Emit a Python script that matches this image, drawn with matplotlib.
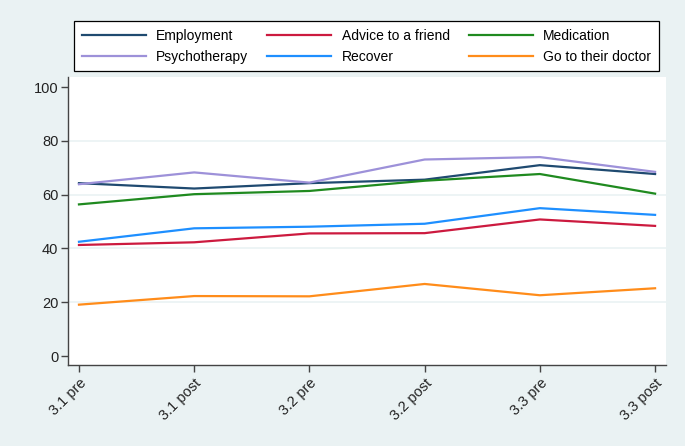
import matplotlib.pyplot as plt

plt.rcParams['font.family'] = ['Liberation Sans', 'DejaVu Sans']

waves = ['3.1 pre', '3.1 post', '3.2 pre', '3.2 post', '3.3 pre', '3.3 post']

employment = [64.3, 62.3, 64.3, 65.6, 71.0, 67.7]
advice = [41.3, 42.3, 45.6, 45.7, 50.8, 48.4]
medication = [56.4, 60.2, 61.4, 65.2, 67.7, 60.4]
psychotherapy = [63.9, 68.3, 64.5, 73.1, 74.0, 68.5]
recover = [42.5, 47.5, 48.1, 49.2, 55.0, 52.5]
doctor = [19.1, 22.3, 22.2, 26.8, 22.6, 25.2]

bg = '#eaf2f3'
fig = plt.figure(figsize=(6.85, 4.46), dpi=100, facecolor=bg)
ax = fig.add_axes([0.0993, 0.1816, 0.873, 0.6458])
ax.set_facecolor('white')

x = list(range(len(waves)))
lw = 1.6
h_emp, = ax.plot(x, employment, color='#1f4a70', lw=lw, label='Employment')
h_adv, = ax.plot(x, advice, color='#cc1a3f', lw=lw, label='Advice to a friend')
h_med, = ax.plot(x, medication, color='#1f8a1f', lw=lw, label='Medication')
h_psy, = ax.plot(x, psychotherapy, color='#9d91d9', lw=lw, label='Psychotherapy')
h_rec, = ax.plot(x, recover, color='#1e8fff', lw=lw, label='Recover')
h_doc, = ax.plot(x, doctor, color='#ff8c1a', lw=lw, label='Go to their doctor')

ax.set_xlim(-0.095, 5.095)
ax.set_ylim(-3.35, 103.8)
ax.set_yticks([0, 20, 40, 60, 80, 100])
ax.set_xticks(x)
ax.set_xticklabels(waves, rotation=45, ha='right', rotation_mode='anchor')
ax.tick_params(axis='both', labelsize=10.5, color='#444444', length=5, width=1, labelcolor='#222222')
ax.tick_params(axis='y', pad=2)
ax.tick_params(axis='x', pad=3)

for y in [20, 40, 60, 80]:
    ax.axhline(y, color=bg, lw=1.2, zorder=0)

for s in ['top', 'right']:
    ax.spines[s].set_visible(False)
for s in ['left', 'bottom']:
    ax.spines[s].set_color('#444444')
    ax.spines[s].set_linewidth(1)

# legend filled column-wise, so reorder to get row-wise layout
handles = [h_emp, h_psy, h_adv, h_rec, h_med, h_doc]
leg = fig.legend(handles=handles, loc='center', ncol=3, mode='expand',
                 bbox_to_anchor=(0.108, 0.841, 0.854, 0.110),
                 fontsize=10, handlelength=4.6, handletextpad=0.75,
                 borderaxespad=0, fancybox=False, framealpha=1,
                 edgecolor='black', borderpad=0.55, labelspacing=0.5)
leg.get_frame().set_linewidth(0.9)

plt.savefig('out.png', facecolor=bg)
